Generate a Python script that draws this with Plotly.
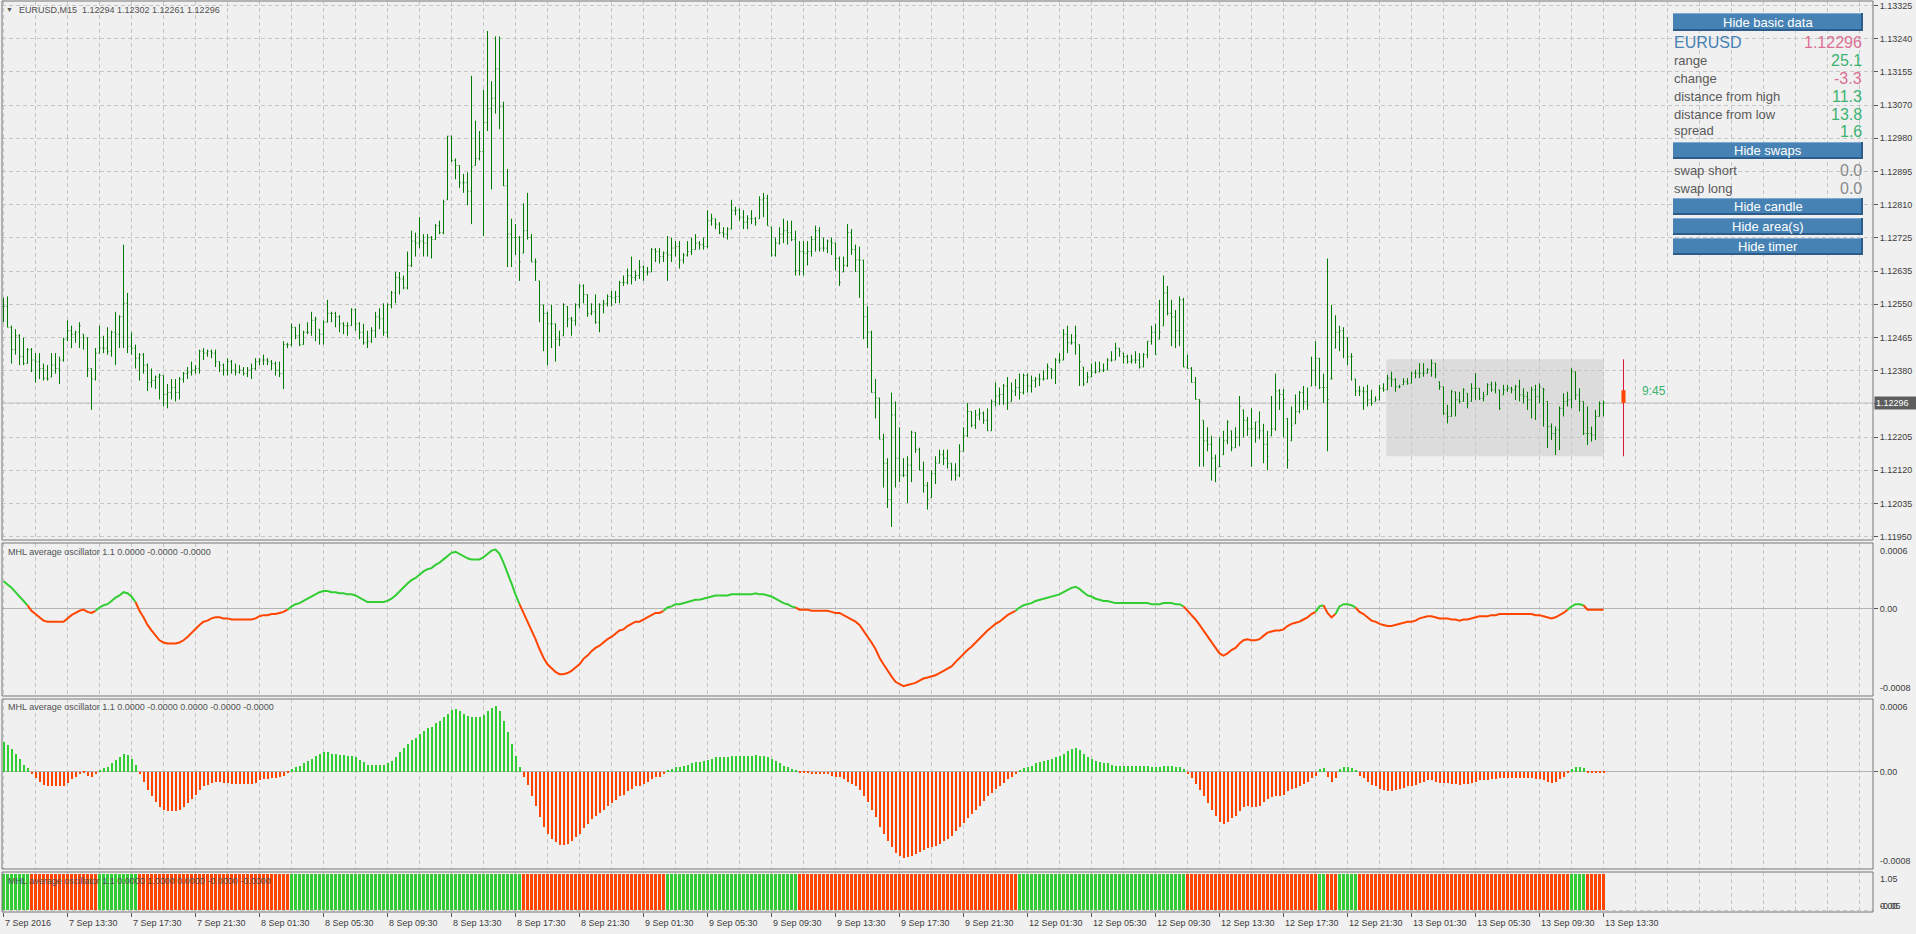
import plotly.graph_objects as go

# ------------------------------------------------------------------ data
SYMBOL = "EURUSD"
TIMEFRAME = "M15"
POINT = 0.00001
PRICE_BASE = 1.10000

# bar highs / lows / closes in points above 1.10000 (bars 0..400, 15-minute bars)
high_pts = [
    2568, 2572, 2496, 2487, 2474, 2465, 2438, 2438, 2425, 2425,
    2398, 2394, 2425, 2425, 2416, 2465, 2510, 2496, 2483, 2505,
    2474, 2465, 2385, 2438, 2496, 2470, 2492, 2483, 2532, 2523,
    2706, 2581, 2479, 2447, 2425, 2425, 2398, 2385, 2367, 2372,
    2367, 2345, 2358, 2358, 2363, 2376, 2389, 2403, 2394, 2434,
    2438, 2434, 2434, 2434, 2403, 2398, 2412, 2407, 2398, 2394,
    2389, 2389, 2398, 2412, 2412, 2421, 2412, 2407, 2403, 2403,
    2456, 2452, 2501, 2492, 2501, 2483, 2505, 2532, 2519, 2487,
    2510, 2563, 2532, 2532, 2523, 2505, 2505, 2541, 2541, 2505,
    2501, 2483, 2492, 2532, 2541, 2554, 2554, 2586, 2635, 2635,
    2626, 2688, 2742, 2737, 2777, 2733, 2733, 2728, 2759, 2768,
    2822, 2987, 2987, 2929, 2911, 2889, 2893, 3143, 3027, 3000,
    3107, 3259, 3129, 3245, 3245, 3076, 2902, 2773, 2759, 2728,
    2813, 2840, 2733, 2670, 2612, 2550, 2532, 2550, 2501, 2483,
    2554, 2546, 2519, 2554, 2603, 2603, 2577, 2554, 2577, 2554,
    2563, 2577, 2586, 2586, 2612, 2626, 2644, 2675, 2639, 2666,
    2652, 2648, 2697, 2697, 2697, 2688, 2728, 2724, 2715, 2715,
    2684, 2715, 2724, 2733, 2715, 2724, 2795, 2786, 2773, 2764,
    2751, 2751, 2822, 2804, 2800, 2795, 2782, 2795, 2777, 2831,
    2840, 2835, 2751, 2724, 2751, 2773, 2768, 2768, 2742, 2715,
    2715, 2715, 2728, 2755, 2751, 2724, 2719, 2724, 2710, 2675,
    2675, 2759, 2746, 2706, 2701, 2666, 2546, 2483, 2358, 2309,
    2216, 2153, 2323, 2300, 2233, 2153, 2158, 2224, 2220, 2180,
    2144, 2091, 2122, 2158, 2175, 2175, 2175, 2140, 2140, 2189,
    2233, 2296, 2274, 2278, 2282, 2274, 2282, 2305, 2349, 2336,
    2345, 2363, 2349, 2358, 2372, 2372, 2372, 2367, 2363, 2372,
    2381, 2398, 2385, 2412, 2425, 2487, 2496, 2474, 2496, 2447,
    2389, 2376, 2398, 2403, 2403, 2398, 2412, 2430, 2452, 2438,
    2425, 2421, 2421, 2430, 2425, 2425, 2456, 2496, 2501, 2563,
    2626, 2599, 2563, 2537, 2572, 2568, 2421, 2389, 2363, 2305,
    2251, 2233, 2211, 2162, 2207, 2224, 2251, 2224, 2233, 2314,
    2278, 2260, 2282, 2247, 2274, 2242, 2224, 2314, 2372, 2332,
    2332, 2256, 2287, 2318, 2327, 2340, 2336, 2416, 2456, 2412,
    2372, 2670, 2550, 2523, 2496, 2492, 2465, 2425, 2358, 2340,
    2338, 2343, 2330, 2313, 2343, 2347, 2369, 2377, 2360, 2343,
    2360, 2360, 2377, 2382, 2399, 2399, 2386, 2409, 2399, 2351,
    2338, 2291, 2330, 2325, 2325, 2334, 2321, 2347, 2373, 2334,
    2325, 2347, 2351, 2351, 2330, 2343, 2343, 2338, 2343, 2356,
    2334, 2325, 2338, 2343, 2347, 2334, 2300, 2243, 2235, 2287,
    2321, 2325, 2386, 2377, 2334, 2300, 2287, 2235, 2278, 2300,
    2302,
]
low_pts = [
    2505, 2492, 2398, 2421, 2394, 2394, 2398, 2376, 2349, 2358,
    2354, 2354, 2363, 2372, 2345, 2403, 2456, 2438, 2452, 2438,
    2434, 2363, 2278, 2354, 2425, 2425, 2421, 2416, 2394, 2438,
    2438, 2425, 2421, 2385, 2354, 2372, 2327, 2336, 2332, 2305,
    2287, 2282, 2305, 2300, 2305, 2349, 2358, 2367, 2372, 2372,
    2407, 2416, 2412, 2389, 2376, 2367, 2367, 2372, 2367, 2372,
    2367, 2363, 2358, 2381, 2394, 2394, 2394, 2381, 2367, 2363,
    2332, 2438, 2443, 2461, 2443, 2447, 2474, 2470, 2456, 2447,
    2447, 2505, 2505, 2492, 2479, 2474, 2470, 2496, 2483, 2461,
    2447, 2438, 2452, 2465, 2487, 2470, 2465, 2541, 2554, 2577,
    2590, 2590, 2648, 2675, 2697, 2675, 2675, 2670, 2719, 2733,
    2733, 2822, 2920, 2875, 2853, 2840, 2808, 2759, 2911, 2924,
    2728, 3000, 2849, 3045, 3005, 2858, 2648, 2648, 2679, 2612,
    2684, 2719, 2661, 2612, 2505, 2430, 2394, 2438, 2403, 2443,
    2470, 2492, 2470, 2496, 2541, 2554, 2519, 2523, 2501, 2479,
    2528, 2546, 2546, 2554, 2554, 2599, 2603, 2603, 2612, 2617,
    2612, 2626, 2635, 2661, 2657, 2661, 2612, 2661, 2675, 2644,
    2657, 2675, 2679, 2693, 2693, 2693, 2697, 2755, 2746, 2733,
    2724, 2719, 2746, 2782, 2768, 2746, 2746, 2759, 2755, 2773,
    2777, 2755, 2675, 2675, 2706, 2710, 2706, 2715, 2626, 2626,
    2626, 2652, 2675, 2688, 2688, 2688, 2684, 2679, 2639, 2599,
    2635, 2648, 2679, 2635, 2568, 2461, 2438, 2323, 2256, 2202,
    2077, 2024, 1975, 2077, 2091, 2104, 2037, 2091, 2167, 2122,
    2064, 2020, 2051, 2086, 2140, 2135, 2126, 2095, 2095, 2104,
    2171, 2207, 2233, 2229, 2251, 2242, 2224, 2224, 2287, 2291,
    2291, 2278, 2300, 2314, 2305, 2318, 2323, 2323, 2336, 2340,
    2354, 2358, 2358, 2345, 2398, 2407, 2425, 2447, 2421, 2340,
    2340, 2349, 2363, 2372, 2376, 2376, 2381, 2403, 2407, 2416,
    2398, 2398, 2398, 2398, 2385, 2389, 2412, 2447, 2421, 2461,
    2496, 2523, 2443, 2438, 2443, 2389, 2385, 2349, 2305, 2131,
    2131, 2171, 2095, 2091, 2131, 2162, 2189, 2171, 2180, 2184,
    2207, 2211, 2131, 2193, 2202, 2140, 2122, 2211, 2224, 2278,
    2207, 2126, 2198, 2242, 2269, 2278, 2278, 2340, 2340, 2332,
    2296, 2171, 2358, 2438, 2430, 2412, 2394, 2354, 2314, 2314,
    2278, 2287, 2289, 2300, 2304, 2325, 2330, 2338, 2325, 2334,
    2343, 2343, 2347, 2360, 2360, 2364, 2373, 2364, 2360, 2330,
    2265, 2243, 2261, 2261, 2295, 2300, 2282, 2300, 2304, 2304,
    2300, 2317, 2325, 2321, 2278, 2317, 2325, 2321, 2304, 2300,
    2295, 2278, 2256, 2252, 2295, 2235, 2179, 2200, 2161, 2174,
    2261, 2287, 2282, 2304, 2274, 2213, 2187, 2196, 2200, 2261,
    2261,
]
close_pts = [
    2546, 2492, 2434, 2470, 2416, 2398, 2434, 2407, 2403, 2385,
    2360, 2358, 2394, 2385, 2407, 2461, 2483, 2474, 2479, 2496,
    2465, 2385, 2358, 2425, 2438, 2438, 2430, 2479, 2474, 2519,
    2554, 2443, 2438, 2412, 2421, 2394, 2349, 2354, 2363, 2367,
    2318, 2323, 2336, 2323, 2358, 2372, 2376, 2381, 2385, 2430,
    2425, 2430, 2425, 2403, 2394, 2381, 2403, 2381, 2376, 2381,
    2372, 2381, 2385, 2403, 2407, 2407, 2403, 2398, 2381, 2372,
    2447, 2447, 2492, 2470, 2447, 2479, 2479, 2510, 2514, 2474,
    2505, 2528, 2528, 2519, 2501, 2496, 2496, 2537, 2501, 2479,
    2452, 2456, 2483, 2519, 2514, 2479, 2550, 2581, 2621, 2617,
    2594, 2652, 2715, 2710, 2715, 2710, 2724, 2719, 2755, 2737,
    2817, 2987, 2924, 2911, 2866, 2866, 2844, 2907, 2929, 2947,
    3022, 3058, 3085, 3161, 3063, 2858, 2733, 2724, 2724, 2661,
    2742, 2724, 2661, 2661, 2550, 2528, 2501, 2501, 2461, 2461,
    2550, 2514, 2510, 2550, 2599, 2577, 2528, 2532, 2505, 2550,
    2554, 2572, 2568, 2572, 2608, 2608, 2626, 2621, 2626, 2648,
    2635, 2635, 2693, 2688, 2675, 2684, 2679, 2697, 2701, 2666,
    2679, 2688, 2693, 2710, 2706, 2701, 2768, 2773, 2759, 2737,
    2733, 2746, 2795, 2795, 2777, 2764, 2773, 2773, 2764, 2822,
    2826, 2755, 2679, 2710, 2733, 2742, 2737, 2719, 2639, 2688,
    2684, 2688, 2719, 2742, 2697, 2697, 2715, 2710, 2670, 2608,
    2652, 2737, 2693, 2666, 2666, 2519, 2479, 2323, 2309, 2202,
    2140, 2046, 2265, 2153, 2109, 2109, 2135, 2220, 2175, 2122,
    2082, 2046, 2113, 2140, 2162, 2153, 2140, 2122, 2109, 2171,
    2211, 2274, 2238, 2265, 2269, 2251, 2224, 2300, 2314, 2318,
    2340, 2296, 2327, 2336, 2323, 2367, 2340, 2354, 2358, 2358,
    2358, 2389, 2381, 2407, 2407, 2474, 2452, 2452, 2470, 2403,
    2345, 2363, 2376, 2376, 2381, 2381, 2407, 2407, 2438, 2430,
    2416, 2403, 2407, 2407, 2389, 2421, 2456, 2479, 2421, 2479,
    2581, 2528, 2519, 2483, 2563, 2389, 2385, 2349, 2305, 2300,
    2198, 2189, 2153, 2126, 2131, 2198, 2247, 2180, 2207, 2287,
    2251, 2229, 2229, 2247, 2224, 2189, 2158, 2229, 2327, 2318,
    2305, 2149, 2238, 2274, 2323, 2300, 2291, 2381, 2412, 2336,
    2336, 2305, 2358, 2479, 2483, 2465, 2416, 2416, 2327, 2327,
    2325, 2304, 2295, 2304, 2334, 2330, 2360, 2356, 2338, 2338,
    2351, 2347, 2373, 2373, 2373, 2373, 2382, 2399, 2369, 2338,
    2269, 2261, 2325, 2304, 2300, 2330, 2295, 2334, 2334, 2308,
    2313, 2343, 2330, 2343, 2282, 2330, 2334, 2330, 2338, 2317,
    2313, 2304, 2330, 2313, 2338, 2330, 2235, 2217, 2226, 2282,
    2300, 2304, 2377, 2317, 2300, 2217, 2217, 2213, 2261, 2295,
    2296,
]
last_bar_open_pts = 2294

# MHL average oscillator value per bar, in units of 0.00001
osc_e5 = [
    25, 22, 19, 15, 11, 6, 3,
    -2, -5, -8, -11, -12, -12, -12, -12, -12, -9, -6, -4, -2, -1, -3, -4, -2,
    1, 3, 4, 7, 10, 12, 15, 14, 11, 6,
    -2, -8, -15, -20, -25, -29, -31, -32, -32, -32, -31, -29, -26, -22, -19, -15,
    -12, -11, -9, -8, -8, -9, -9, -10, -10, -10, -10, -10, -10, -9, -7, -6, -6, -5,
    -5, -4, -3, -1,
    2, 4, 5, 7, 9, 11, 13, 15, 16, 16, 15, 15, 14, 14, 13, 13, 12, 10, 8, 6,
    6, 6, 6, 6, 7, 9, 12, 16, 20, 23, 26, 28, 31, 34, 36, 37, 40, 42, 45, 48,
    51, 52, 50, 48, 46, 45, 45, 45, 47, 50, 53, 54, 50, 42, 33, 23, 13, 4,
    -4, -11, -20, -28, -37, -45, -51, -55, -58, -60, -60, -59, -57, -54, -51, -46,
    -43, -39, -36, -34, -31, -28, -26, -23, -20, -19, -16, -14, -12, -12, -10, -8,
    -6, -4, -4, -2,
    1, 2, 4, 4, 5, 6, 7, 8, 8, 9, 10, 11, 12, 12, 12, 12, 13, 13, 13, 13,
    13, 13, 14, 13, 13, 12, 11, 9, 7, 5, 4, 2, 1,
    -1, -1, -1, -2, -2, -2, -2, -2, -3, -4, -4, -6, -8, -10, -12, -15, -20, -25,
    -31, -37, -45, -51, -57, -62, -67, -69, -71, -70, -69, -68, -66, -64, -63, -62,
    -61, -59, -57, -55, -53, -49, -45, -42, -38, -35, -31, -28, -24, -20, -17, -14,
    -12, -9, -6, -4, -2,
    1, 3, 4, 5, 7, 8, 9, 10, 11, 12, 13, 15, 17, 19, 20, 18, 15, 12, 11, 9,
    8, 7, 7, 6, 5, 5, 5, 5, 5, 5, 5, 5, 5, 4, 4, 4, 5, 5, 5, 4, 4, 2,
    -2, -5, -10, -15, -20, -26, -31, -36, -41, -43, -41, -38, -36, -32, -29, -28,
    -29, -29, -28, -25, -22, -21, -20, -20, -19, -16, -14, -13, -12, -10, -8, -5, -3,
    2, 3,
    -4, -8, -5,
    2, 4, 4, 3, 1,
    -3, -5, -8, -11, -12, -14, -15, -16, -16, -15, -14, -13, -12, -12, -11, -9,
    -8, -7, -7, -8, -9, -9, -9, -10, -10, -11, -10, -10, -9, -8, -7, -7, -7, -6,
    -6, -5, -5, -5, -5, -5, -5, -5, -5, -5, -6, -6, -7, -8, -9, -8, -6, -4, -1,
    2, 4, 4, 3,
    -1, -1, -1, -1, -1,
]
# colour state of the oscillator (1 = green / up, 0 = red / down): (state, number of bars)
osc_state_runs = [(1, 7), (0, 17), (1, 10), (0, 38), (1, 58), (0, 36), (1, 33), (0, 55),
                  (1, 42), (0, 33), (1, 2), (0, 3), (1, 5), (0, 53), (1, 4), (0, 5)]
osc3_level = 1.0

time_labels = ["7 Sep 2016", "7 Sep 13:30", "7 Sep 17:30", "7 Sep 21:30", "8 Sep 01:30",
               "8 Sep 05:30", "8 Sep 09:30", "8 Sep 13:30", "8 Sep 17:30", "8 Sep 21:30",
               "9 Sep 01:30", "9 Sep 05:30", "9 Sep 09:30", "9 Sep 13:30", "9 Sep 17:30",
               "9 Sep 21:30", "12 Sep 01:30", "12 Sep 05:30", "12 Sep 09:30", "12 Sep 13:30",
               "12 Sep 17:30", "12 Sep 21:30", "13 Sep 01:30", "13 Sep 05:30", "13 Sep 09:30",
               "13 Sep 13:30"]
BARS_PER_TIME_LABEL = 16

price_tick_labels = ["1.13325", "1.13240", "1.13155", "1.13070", "1.12980", "1.12895",
                     "1.12810", "1.12725", "1.12635", "1.12550", "1.12465", "1.12380",
                     "1.12296", "1.12205", "1.12120", "1.12035", "1.11950"]

osc_axis_labels = ("0.0006", "0.00", "-0.0008")
osc3_axis_labels = ("1.05", "0.00", "-0.05")
osc1_title = "MHL average oscillator 1.1 0.0000 -0.0000 -0.0000"
osc2_title = "MHL average oscillator 1.1 0.0000 -0.0000 0.0000 -0.0000 -0.0000"
osc3_title = "MHL average oscillator 1.1 0.0000 1.0000 0.0000 -0.0000 -0.0000"

day_open, day_high, day_low, day_close = 1.12329, 1.12409, 1.12158, 1.12296
session_start_bar = 346
day_candle_bar = 405
timer_text = "9:45"

info_rows = [("range", "25.1", "#3CB371"), ("change", "-3.3", "#DB7093"),
             ("distance from high", "11.3", "#3CB371"), ("distance from low", "13.8", "#3CB371"),
             ("spread", "1.6", "#3CB371")]
swap_rows = [("swap short", "0.0"), ("swap long", "0.0")]

# ------------------------------------------------------------------ derived
n = len(close_pts)
xs = list(range(n))
highs = [PRICE_BASE + v * POINT for v in high_pts]
lows = [PRICE_BASE + v * POINT for v in low_pts]
closes = [PRICE_BASE + v * POINT for v in close_pts]
open_pts = [close_pts[0]] + close_pts[:-1]
open_pts[-1] = last_bar_open_pts
opens = [min(max(PRICE_BASE + o * POINT, lo), hi) for o, lo, hi in zip(open_pts, lows, highs)]
osc = [v * 1e-5 for v in osc_e5]
state = []
for s, cnt in osc_state_runs:
    state += [s] * cnt

GREEN = "#32CD32"
RED = "#FF4500"
BAR_GREEN = "#007a00"
GRID = "#c6c6c6"
FRAME = "#777777"
TXT = "#3c3c3c"
BG = "#F0F0F0"
FONT = "Liberation Sans, Arial, sans-serif"

W, H = 1916, 934
ML, MR, MT, MB = 2, 43, 1, 22
PW = W - ML - MR
PH = H - MT - MB


def fx(px):
    return (px - ML) / PW


def fy(py):
    return (H - MB - py) / PH


dom_main = [fy(540), 1.0]
dom_o1 = [fy(696), fy(543)]
dom_o2 = [fy(869), fy(699)]
dom_o3 = [0.0, fy(872)]

x_range = [-0.375, -0.375 + PW / 4.0]

fig = go.Figure()

# main price bars
fig.add_trace(go.Ohlc(
    x=xs, open=opens, high=highs, low=lows, close=closes,
    increasing=dict(line=dict(color=BAR_GREEN, width=1)),
    decreasing=dict(line=dict(color=BAR_GREEN, width=1)),
    tickwidth=0.25, hoverinfo="skip", showlegend=False, xaxis="x", yaxis="y"))

# daily candle
fig.add_trace(go.Scatter(x=[day_candle_bar, day_candle_bar], y=[day_low, day_high], mode="lines",
                         line=dict(color="#DC143C", width=1), hoverinfo="skip",
                         showlegend=False, xaxis="x", yaxis="y"))
fig.add_trace(go.Scatter(x=[day_candle_bar, day_candle_bar], y=[day_open, day_close], mode="lines",
                         line=dict(color=RED, width=4), hoverinfo="skip",
                         showlegend=False, xaxis="x", yaxis="y"))

# oscillator line (panel 1) coloured by state runs
runs = []
start = 0
for i in range(1, n + 1):
    if i == n or state[i] != state[start]:
        runs.append((start, i - 1, state[start]))
        start = i
for a, b, s in runs:
    a0 = max(a - 1, 0)
    fig.add_trace(go.Scatter(x=xs[a0:b + 1], y=osc[a0:b + 1], mode="lines",
                             line=dict(color=GREEN if s else RED, width=2),
                             hoverinfo="skip", showlegend=False, xaxis="x2", yaxis="y2"))

# histogram (panel 2)
colors = [GREEN if s else RED for s in state]
fig.add_trace(go.Bar(x=xs, y=osc, width=0.5, marker=dict(color=colors, line=dict(width=0)),
                     hoverinfo="skip", showlegend=False, xaxis="x3", yaxis="y3"))

# state bars (panel 3)
fig.add_trace(go.Bar(x=xs, y=[osc3_level] * n, width=0.75,
                     marker=dict(color=colors, line=dict(width=0)),
                     hoverinfo="skip", showlegend=False, xaxis="x4", yaxis="y4"))

# ------------------------------------------------------------------ axes
grid_common = dict(showgrid=True, gridcolor=GRID, griddash="4px,3px", gridwidth=1,
                   zeroline=False, showline=False)
xcommon = dict(range=x_range, domain=[0, 1], tickmode="linear", tick0=0, dtick=8,
               showticklabels=False, ticks="", fixedrange=True, **grid_common)

label_bars = [i * BARS_PER_TIME_LABEL for i in range(len(time_labels))]

fig.update_layout(
    width=W, height=H, paper_bgcolor=BG, plot_bgcolor=BG,
    margin=dict(l=ML, r=MR, t=MT, b=MB, pad=0), hovermode=False,
    font=dict(family=FONT, size=9, color=TXT),
    xaxis=dict(anchor="y", rangeslider=dict(visible=False), **xcommon),
    xaxis2=dict(anchor="y2", matches="x", **xcommon),
    xaxis3=dict(anchor="y3", matches="x", **xcommon),
    xaxis4=dict(anchor="y4", matches="x", range=x_range, domain=[0, 1], tickmode="array",
                tickvals=label_bars, ticktext=[""] * len(label_bars), ticks="outside",
                ticklen=4, tickcolor="#555555", fixedrange=True,
                minor=dict(tickmode="linear", tick0=0, dtick=8, showgrid=True, gridcolor=GRID,
                           griddash="4px,3px", ticks=""),
                **grid_common),
    yaxis=dict(anchor="x", domain=dom_main, side="right", range=[1.119412, 1.133367],
               tickmode="array",
               tickvals=[1.13325 - k * 0.000859375 for k in range(len(price_tick_labels))],
               ticktext=price_tick_labels, ticks="outside", ticklen=4, tickcolor="#555555",
               tickfont=dict(size=9, color=TXT), fixedrange=True, **grid_common),
    yaxis2=dict(anchor="x2", domain=dom_o1, side="right", range=[-0.0008, 0.0006],
                tickmode="array", tickvals=[0.0], ticktext=[osc_axis_labels[1]],
                ticks="outside", ticklen=4, tickcolor="#555555", fixedrange=True,
                showgrid=True, gridcolor=GRID, griddash="4px,3px",
                zeroline=True, zerolinecolor="#b4b4b4", zerolinewidth=1, showline=False),
    yaxis3=dict(anchor="x3", domain=dom_o2, side="right", range=[-0.0008, 0.0006],
                tickmode="array", tickvals=[0.0], ticktext=[osc_axis_labels[1]],
                ticks="outside", ticklen=4, tickcolor="#555555", fixedrange=True,
                showgrid=True, gridcolor=GRID, griddash="4px,3px",
                zeroline=True, zerolinecolor="#b4b4b4", zerolinewidth=1, showline=False),
    yaxis4=dict(anchor="x4", domain=dom_o3, side="right", range=[-0.05, 1.05],
                tickmode="array", tickvals=[0.0], ticktext=[""], ticks="", fixedrange=True,
                **grid_common),
    bargap=0,
)

shapes = []
annotations = []

# session (today's) high/low area
shapes.append(dict(type="rect", xref="x", yref="y", x0=session_start_bar - 0.3, x1=n - 1 + 0.1,
                   y0=day_low, y1=day_high, fillcolor="#dcdcdc", line=dict(width=0), layer="below"))
# current price line
shapes.append(dict(type="line", xref="paper", yref="y", x0=0, x1=1, y0=closes[-1], y1=closes[-1],
                   line=dict(color="#c4c4c4", width=1), layer="below"))

# panel frames
for d in (dom_main, dom_o1, dom_o2, dom_o3):
    shapes.append(dict(type="rect", xref="paper", yref="paper", x0=0, x1=1, y0=d[0], y1=d[1],
                       line=dict(color=FRAME, width=1), fillcolor="rgba(0,0,0,0)", layer="above"))

# header
annotations.append(dict(xref="paper", yref="paper", x=fx(4), y=fy(10), xanchor="left",
                        yanchor="middle", text="▼", showarrow=False,
                        font=dict(size=7, color="#555555")))
header = "{},{}\u00a0\u00a0{:.5f} {:.5f} {:.5f} {:.5f}".format(
    SYMBOL, TIMEFRAME, opens[-1], highs[-1], lows[-1], closes[-1])
annotations.append(dict(xref="paper", yref="paper", x=fx(17), y=fy(10), xanchor="left",
                        yanchor="middle", text=header, showarrow=False,
                        font=dict(size=9, color="#505050")))

# indicator titles
for title, py in ((osc1_title, 552), (osc2_title, 707), (osc3_title, 881)):
    annotations.append(dict(xref="paper", yref="paper", x=fx(6), y=fy(py), xanchor="left",
                            yanchor="middle", text=title, showarrow=False,
                            font=dict(size=9, color="#505050")))

# oscillator axis labels (top / bottom)
for ax in ("y2", "y3"):
    annotations.append(dict(xref="paper", yref=ax + " domain", x=1, y=1, xanchor="left",
                            yanchor="top", xshift=5, yshift=-1, text=osc_axis_labels[0],
                            showarrow=False, font=dict(size=9, color=TXT)))
    annotations.append(dict(xref="paper", yref=ax + " domain", x=1, y=0, xanchor="left",
                            yanchor="bottom", xshift=5, yshift=1, text=osc_axis_labels[2],
                            showarrow=False, font=dict(size=9, color=TXT)))
annotations.append(dict(xref="paper", yref="y4 domain", x=1, y=1, xanchor="left", yanchor="top",
                        xshift=5, text=osc3_axis_labels[0], showarrow=False,
                        font=dict(size=9, color=TXT)))
for t in (osc3_axis_labels[2], osc3_axis_labels[1]):
    annotations.append(dict(xref="paper", yref="y4 domain", x=1, y=0, xanchor="left",
                            yanchor="bottom", xshift=5, yshift=-1, text=t, showarrow=False,
                            font=dict(size=9, color=TXT)))

# time labels
for b, t in zip(label_bars, time_labels):
    annotations.append(dict(xref="x4", yref="paper", x=b, y=0, xanchor="left", yanchor="top",
                            xshift=-1, yshift=-4, text=t, showarrow=False,
                            font=dict(size=9, color=TXT)))

# current price label on axis
annotations.append(dict(xref="paper", yref="y", x=1, y=closes[-1], xanchor="left",
                        yanchor="middle", xshift=1, text="{:.5f}".format(closes[-1]),
                        showarrow=False, bgcolor="#5e5e5e", borderpad=1, width=40, align="left",
                        font=dict(size=9, color="#ffffff")))

# timer
annotations.append(dict(xref="x", yref="y", x=day_candle_bar + 4.0, y=closes[-1], xanchor="left",
                        yanchor="middle", yshift=12, text=timer_text, showarrow=False,
                        font=dict(size=12, color="#3CB371")))

# info panel
PX0, PX1 = 1673, 1863


def button(label, top, bottom):
    shapes.append(dict(type="rect", xref="paper", yref="paper", x0=fx(PX0), x1=fx(PX1),
                       y0=fy(bottom), y1=fy(top), fillcolor="#4682B4", line=dict(width=0),
                       layer="above"))
    shapes.append(dict(type="line", xref="paper", yref="paper", x0=fx(PX0), x1=fx(PX1),
                       y0=fy(top + 0.5), y1=fy(top + 0.5), line=dict(color="#7FAAD4", width=1),
                       layer="above"))
    shapes.append(dict(type="line", xref="paper", yref="paper", x0=fx(PX0), x1=fx(PX1),
                       y0=fy(bottom - 1), y1=fy(bottom - 1), line=dict(color="#2C5C8A", width=2),
                       layer="above"))
    shapes.append(dict(type="line", xref="paper", yref="paper", x0=fx(PX1 - 1), x1=fx(PX1 - 1),
                       y0=fy(bottom), y1=fy(top), line=dict(color="#2C5C8A", width=2),
                       layer="above"))
    annotations.append(dict(xref="paper", yref="paper", x=fx((PX0 + PX1) / 2),
                            y=fy((top + bottom) / 2), xanchor="center", yanchor="middle",
                            text=label, showarrow=False,
                            font=dict(size=13, color="#ffffff", family=FONT)))


def row(label, value, vcolor, py, lsize=13, lcolor="#5a5a5a"):
    annotations.append(dict(xref="paper", yref="paper", x=fx(PX0 - 1), y=fy(py), xanchor="left",
                            yanchor="middle", text=label, showarrow=False,
                            font=dict(size=lsize, color=lcolor, family=FONT)))
    annotations.append(dict(xref="paper", yref="paper", x=fx(PX1 + 1), y=fy(py + 0.5),
                            xanchor="right", yanchor="middle", text=value, showarrow=False,
                            font=dict(size=16, color=vcolor, family=FONT)))


button("Hide basic data", 13, 31)
row(SYMBOL, "{:.5f}".format(closes[-1]), "#DB7093", 42.5, lsize=16, lcolor="#4682B4")
for (lab, val, col), py in zip(info_rows, (60, 78, 96, 114, 131)):
    row(lab, val, col, py)
button("Hide swaps", 142, 159)
for (lab, val), py in zip(swap_rows, (170, 188)):
    row(lab, val, "#8a8a8a", py)
button("Hide candle", 198, 215)
button("Hide area(s)", 218, 235)
button("Hide timer", 238, 255)

fig.update_layout(shapes=shapes, annotations=annotations)

assert len(high_pts) == len(low_pts) == len(close_pts) == len(osc_e5) == len(state) == 401, (
    len(high_pts), len(low_pts), len(close_pts), len(osc_e5), len(state))

fig.write_html("out.html", config={"displayModeBar": False},
               post_script="document.body.style.margin='0';"
                           "document.documentElement.style.overflow='hidden';")
